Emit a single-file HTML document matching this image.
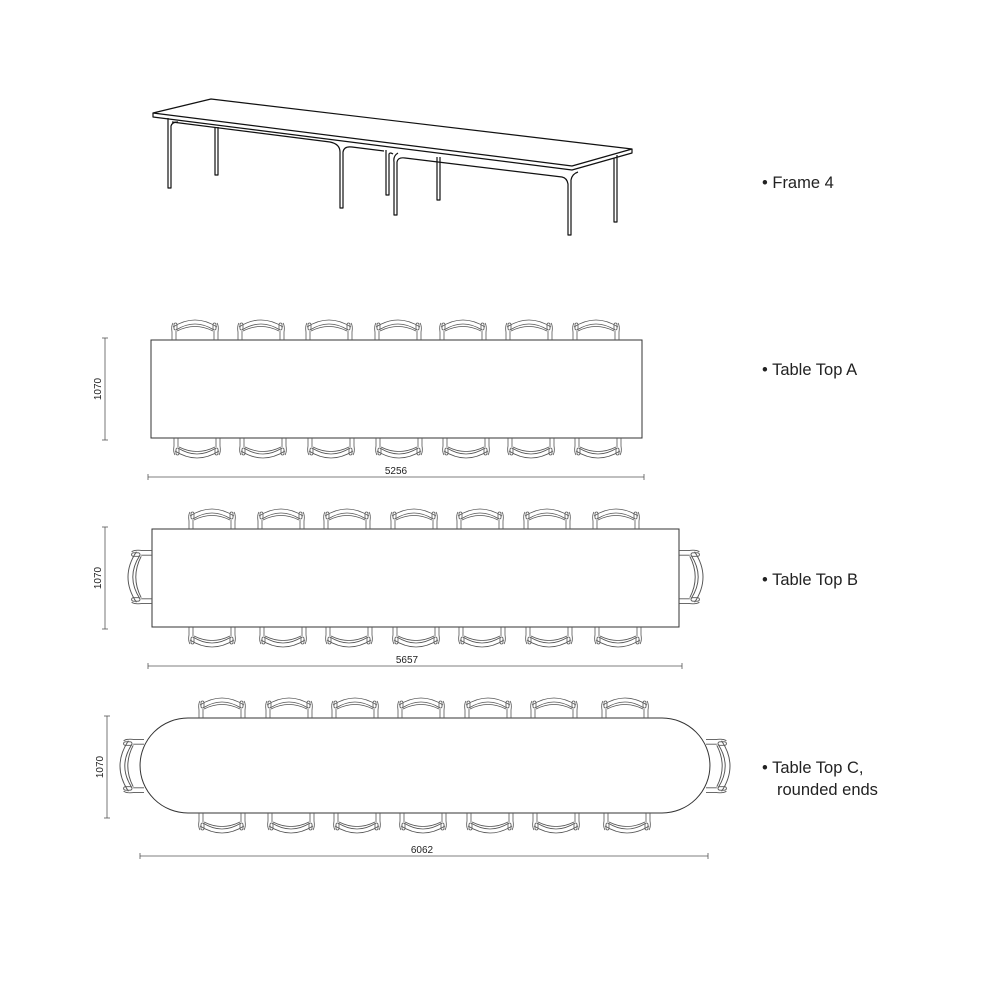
<!DOCTYPE html>
<html><head><meta charset="utf-8"><style>
body{margin:0;background:#fff}
svg{display:block}
text{font-family:"Liberation Sans",sans-serif;fill:#222}
</style></head><body>
<svg width="1000" height="1000" viewBox="0 0 1000 1000" xmlns="http://www.w3.org/2000/svg">
<defs>
<g id="ch" fill="none" stroke="#555" stroke-width="0.8">
<path d="M-23,0 V-8 Q-24,-14 -22,-17 M23,0 V-8 Q24,-14 22,-17"/>
<path d="M-19,0 V-9 M19,0 V-9"/>
<path d="M-22,-13 Q0,-27 22,-13"/>
<path d="M-19,-10 Q0,-22 19,-10"/>
<path d="M-18,-9 Q0,-18 18,-9"/>
<rect x="-21" y="-17" width="3" height="7" rx="1.5"/>
<rect x="18" y="-17" width="3" height="7" rx="1.5"/>
</g>
</defs>
<!-- perspective frame -->
<g fill="none" stroke="#111" stroke-width="1.2" stroke-linejoin="round">
<path d="M153,113 L211,99 L632,149 L572,166 Z"/>
<path d="M153,113 L153,117 L572,170 L632,153 L632,149"/>
<path d="M172,122 L330,142 Q340,144 340,152 L340,208 L343,208 L343,152 Q344,146 352,147 L384,151"/>
<path d="M398,153 Q393,156 394,162 L394,215 L397,215 L397,162 Q398,157 405,158 L562,177 Q567,178 568,184 L568,235 L571,235 L571,180 Q572,174 578,172"/>
<path d="M168,118 L168,188 L171,188 L171,126 Q172,122 178,122"/>
<path d="M215,127 L215,175 L218,175 L218,127"/>
<path d="M386,150 L386,195 L389,195 L389,154 Q390,152 393,154"/>
<path d="M437,157 L437,200 L440,200 L440,157"/>
<path d="M614,158 L614,222 L617,222 L617,155"/>
</g>
<!-- Table A -->
<rect x="151" y="340" width="491" height="98" fill="none" stroke="#333"/>
<g>
<use href="#ch" transform="translate(195,340)"/><use href="#ch" transform="translate(261,340)"/><use href="#ch" transform="translate(329,340)"/><use href="#ch" transform="translate(398,340)"/><use href="#ch" transform="translate(463,340)"/><use href="#ch" transform="translate(529,340)"/><use href="#ch" transform="translate(596,340)"/>
<use href="#ch" transform="translate(197,438) scale(1,-1)"/><use href="#ch" transform="translate(263,438) scale(1,-1)"/><use href="#ch" transform="translate(331,438) scale(1,-1)"/><use href="#ch" transform="translate(399,438) scale(1,-1)"/><use href="#ch" transform="translate(466,438) scale(1,-1)"/><use href="#ch" transform="translate(531,438) scale(1,-1)"/><use href="#ch" transform="translate(598,438) scale(1,-1)"/>
</g>
<!-- Table B -->
<rect x="152" y="529" width="527" height="98" fill="none" stroke="#333"/>
<g>
<use href="#ch" transform="translate(212,529)"/><use href="#ch" transform="translate(281,529)"/><use href="#ch" transform="translate(347,529)"/><use href="#ch" transform="translate(414,529)"/><use href="#ch" transform="translate(480,529)"/><use href="#ch" transform="translate(547,529)"/><use href="#ch" transform="translate(616,529)"/>
<use href="#ch" transform="translate(212,627) scale(1,-1)"/><use href="#ch" transform="translate(283,627) scale(1,-1)"/><use href="#ch" transform="translate(349,627) scale(1,-1)"/><use href="#ch" transform="translate(416,627) scale(1,-1)"/><use href="#ch" transform="translate(482,627) scale(1,-1)"/><use href="#ch" transform="translate(549,627) scale(1,-1)"/><use href="#ch" transform="translate(618,627) scale(1,-1)"/>
<use href="#ch" transform="translate(152,577) rotate(-90) scale(1.15,1.2)"/>
<use href="#ch" transform="translate(679,577) rotate(90) scale(1.15,1.2)"/>
</g>
<!-- Table C -->
<path d="M188,718 L662,718 A48,47.5 0 0 1 662,813 L188,813 A48,47.5 0 0 1 188,718 Z" fill="none" stroke="#333"/>
<g>
<use href="#ch" transform="translate(222,718)"/><use href="#ch" transform="translate(289,718)"/><use href="#ch" transform="translate(355,718)"/><use href="#ch" transform="translate(421,718)"/><use href="#ch" transform="translate(488,718)"/><use href="#ch" transform="translate(554,718)"/><use href="#ch" transform="translate(625,718)"/>
<use href="#ch" transform="translate(222,813) scale(1,-1)"/><use href="#ch" transform="translate(291,813) scale(1,-1)"/><use href="#ch" transform="translate(357,813) scale(1,-1)"/><use href="#ch" transform="translate(423,813) scale(1,-1)"/><use href="#ch" transform="translate(490,813) scale(1,-1)"/><use href="#ch" transform="translate(556,813) scale(1,-1)"/><use href="#ch" transform="translate(627,813) scale(1,-1)"/>
<use href="#ch" transform="translate(144,766) rotate(-90) scale(1.15,1.2)"/>
<use href="#ch" transform="translate(706,766) rotate(90) scale(1.15,1.2)"/>
</g>
<!-- dimensions -->
<g stroke="#555" stroke-width="0.8">
<line x1="105" y1="338" x2="105" y2="440"/><line x1="102" y1="338" x2="108" y2="338"/><line x1="102" y1="440" x2="108" y2="440"/>
<line x1="148" y1="477" x2="644" y2="477"/><line x1="148" y1="474" x2="148" y2="480"/><line x1="644" y1="474" x2="644" y2="480"/>
<line x1="105" y1="527" x2="105" y2="629"/><line x1="102" y1="527" x2="108" y2="527"/><line x1="102" y1="629" x2="108" y2="629"/>
<line x1="148" y1="666" x2="682" y2="666"/><line x1="148" y1="663" x2="148" y2="669"/><line x1="682" y1="663" x2="682" y2="669"/>
<line x1="107" y1="716" x2="107" y2="818"/><line x1="104" y1="716" x2="110" y2="716"/><line x1="104" y1="818" x2="110" y2="818"/>
<line x1="140" y1="856" x2="708" y2="856"/><line x1="140" y1="853" x2="140" y2="859"/><line x1="708" y1="853" x2="708" y2="859"/>
</g>
<g font-size="10" text-anchor="middle">
<text transform="translate(101,389) rotate(-90)">1070</text>
<text transform="translate(101,578) rotate(-90)">1070</text>
<text transform="translate(103,767) rotate(-90)">1070</text>
<text x="396" y="474">5256</text>
<text x="407" y="663">5657</text>
<text x="422" y="853">6062</text>
</g>
<g font-size="16.5">
<text x="762" y="188">• Frame 4</text>
<text x="762" y="375">• Table Top A</text>
<text x="762" y="585">• Table Top B</text>
<text x="762" y="773">• Table Top C,</text>
<text x="777" y="795">rounded ends</text>
</g>
</svg>
</body></html>
